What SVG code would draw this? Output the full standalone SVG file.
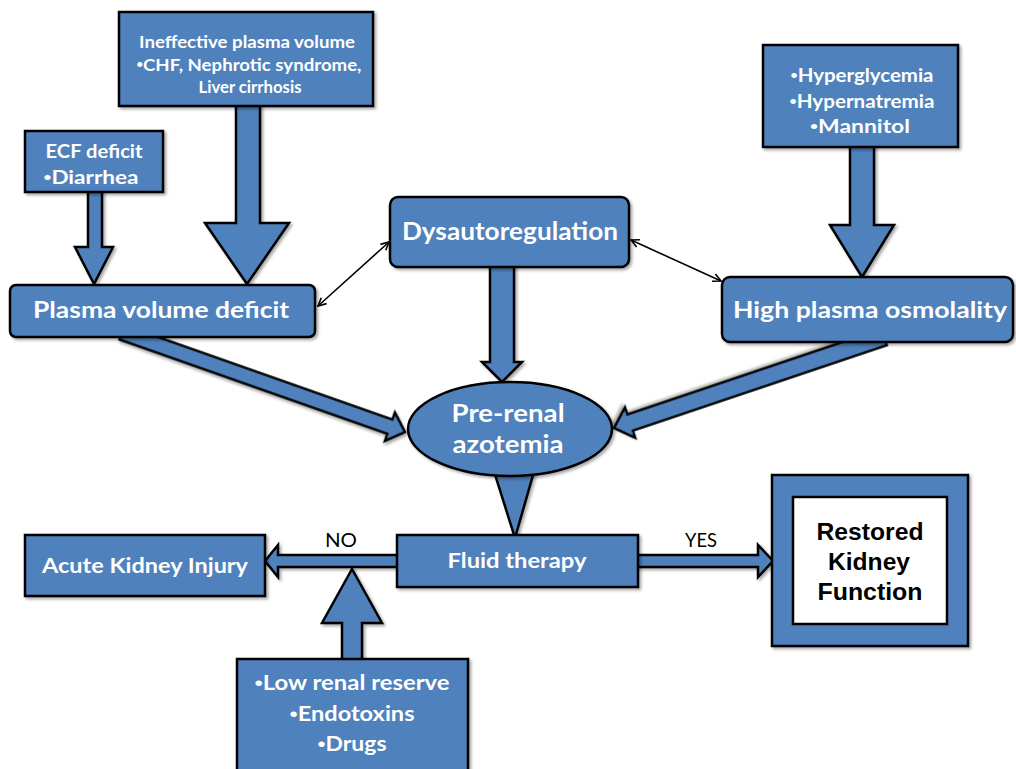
<svg xmlns="http://www.w3.org/2000/svg" width="1016" height="769" viewBox="0 0 1016 769">
<style>
.b{fill:#4F81BD;stroke:#000;stroke-width:2.5;filter:url(#sh)}
.w{fill:#fff;stroke:#000;stroke-width:2.5}
.t{font-family:Lato,"Open Sans","Liberation Sans",sans-serif;font-weight:bold;fill:#fff;text-anchor:middle}
.r{font-family:Lato,"Open Sans","Liberation Sans",sans-serif;fill:#000;text-anchor:middle}
.k{font-family:"Liberation Sans",Arial,sans-serif;font-weight:bold;fill:#000;text-anchor:middle}
.u{font-family:"Liberation Sans",Arial,sans-serif;font-weight:normal}
.thin{stroke:#000;stroke-width:1.6;fill:none;marker-start:url(#oa);marker-end:url(#oa)}
</style>
<defs>
<filter id="sh" x="-10%" y="-10%" width="130%" height="130%">
<feDropShadow dx="2" dy="2" stdDeviation="1.5" flood-color="#000" flood-opacity="0.35"/>
</filter>
<marker id="oa" viewBox="0 0 10 10" refX="9" refY="5" markerWidth="10" markerHeight="10" markerUnits="userSpaceOnUse" orient="auto-start-reverse">
<path d="M1,1 L9,5 L1,9" fill="none" stroke="#000" stroke-width="1.6"/>
</marker>
</defs>
<rect width="1016" height="769" fill="#fff"/>

<g id="connectors">
<polygon class="b" points="88,190 102,190 102,247 113,247 94,284 75,247 88,247"/>
<polygon class="b" points="236,104 260,104 260,223 289,223 247,284 205,223 236,223"/>
<polygon class="b" points="850,145 874,145 874,225 894,225 862,277 830,225 850,225"/>
<polygon class="b" points="490,265 514,265 514,362 522,362 502,382 482,362 490,362"/>
<polygon class="b" transform="translate(405,432) rotate(19.4)" points="-300,-7.5 -16,-7.5 -16,-15 0,0 -16,15 -16,7.5 -300,7.5"/>
<polygon class="b" transform="translate(614,428) rotate(161.4)" points="-285,-8.5 -17,-8.5 -17,-16 0,0 -17,16 -17,8.5 -285,8.5"/>
<polygon class="b" points="493,468 535,468 515,538"/>
<polygon class="b" points="399,555 278,555 278,545 265,561 278,577 278,567 399,567"/>
<polygon class="b" points="636,555 758,555 758,545 773,561 758,577 758,567 636,567"/>
<polygon class="b" points="342,661 342,623 322,623 352,569 382,623 362,623 362,661"/>
<line class="thin" x1="318" y1="306" x2="389" y2="242"/>
<line class="thin" x1="631" y1="240" x2="721" y2="281"/>
<text class="r" x="341" y="547" font-size="20" textLength="32" lengthAdjust="spacingAndGlyphs">NO</text>
<text class="r" x="701" y="547" font-size="20" textLength="32" lengthAdjust="spacingAndGlyphs">YES</text>
</g>

<g id="ineffective">
<rect class="b" x="119" y="12" width="254" height="94"/>
<text class="t" x="247" y="48" font-size="17.5" textLength="216" lengthAdjust="spacingAndGlyphs">Ineffective plasma volume</text>
<text class="t" x="249" y="71" font-size="17.5" textLength="225" lengthAdjust="spacingAndGlyphs"><tspan class="u">•</tspan>CHF, Nephrotic syndrome,</text>
<text class="t" x="250" y="93" font-size="17.5" textLength="103" lengthAdjust="spacingAndGlyphs">Liver cirrhosis</text>
</g>

<g id="ecf">
<rect class="b" x="25" y="131" width="138" height="61"/>
<text class="t" x="94" y="158" font-size="19" textLength="97" lengthAdjust="spacingAndGlyphs">ECF deficit</text>
<text class="t" x="91" y="184" font-size="19" textLength="95" lengthAdjust="spacingAndGlyphs"><tspan class="u">•</tspan>Diarrhea</text>
</g>

<g id="hyper">
<rect class="b" x="763" y="45" width="195" height="102"/>
<text class="t" x="862" y="82" font-size="18" textLength="143" lengthAdjust="spacingAndGlyphs"><tspan class="u">•</tspan>Hyperglycemia</text>
<text class="t" x="862" y="108" font-size="18" textLength="145" lengthAdjust="spacingAndGlyphs"><tspan class="u">•</tspan>Hypernatremia</text>
<text class="t" x="860" y="133" font-size="18" textLength="100" lengthAdjust="spacingAndGlyphs"><tspan class="u">•</tspan>Mannitol</text>
</g>

<g id="plasma">
<rect class="b" x="10" y="285" width="305" height="52" rx="6"/>
<text class="t" x="161" y="318" font-size="23.5" textLength="256" lengthAdjust="spacingAndGlyphs">Plasma volume deficit</text>
</g>

<g id="dysauto">
<rect class="b" x="390" y="197" width="239" height="70" rx="8"/>
<text class="t" x="510" y="240" font-size="24" textLength="216" lengthAdjust="spacingAndGlyphs">Dysautoregulation</text>
</g>

<g id="highosm">
<rect class="b" x="722" y="277" width="291" height="65" rx="8"/>
<text class="t" x="870" y="318" font-size="23.5" textLength="274" lengthAdjust="spacingAndGlyphs">High plasma osmolality</text>
</g>

<g id="prerenal">
<ellipse class="b" cx="510" cy="429" rx="102" ry="47"/>
<text class="t" x="508" y="422" font-size="24" textLength="113" lengthAdjust="spacingAndGlyphs">Pre-renal</text>
<text class="t" x="508" y="453" font-size="24" textLength="111" lengthAdjust="spacingAndGlyphs">azotemia</text>
</g>

<g id="fluid">
<rect class="b" x="397" y="535" width="241" height="52"/>
<text class="t" x="517" y="568" font-size="21" textLength="139" lengthAdjust="spacingAndGlyphs">Fluid therapy</text>
</g>

<g id="aki">
<rect class="b" x="25" y="535" width="240" height="61"/>
<text class="t" x="145" y="573" font-size="21.5" textLength="206" lengthAdjust="spacingAndGlyphs">Acute Kidney Injury</text>
</g>

<g id="restored">
<rect class="b" x="772" y="475" width="196" height="171"/>
<rect class="w" x="793" y="497" width="154" height="127"/>
<text class="k" x="870" y="540" font-size="24" textLength="107" lengthAdjust="spacingAndGlyphs">Restored</text>
<text class="k" x="869" y="570" font-size="24" textLength="82" lengthAdjust="spacingAndGlyphs">Kidney</text>
<text class="k" x="870" y="600" font-size="24" textLength="105" lengthAdjust="spacingAndGlyphs">Function</text>
</g>

<g id="factors">
<rect class="b" x="237" y="659" width="231" height="125"/>
<text class="t" x="352" y="690" font-size="21" textLength="195" lengthAdjust="spacingAndGlyphs"><tspan class="u">•</tspan>Low renal reserve</text>
<text class="t" x="352" y="721" font-size="21" textLength="125" lengthAdjust="spacingAndGlyphs"><tspan class="u">•</tspan>Endotoxins</text>
<text class="t" x="352" y="751" font-size="21" textLength="69" lengthAdjust="spacingAndGlyphs"><tspan class="u">•</tspan>Drugs</text>
</g>
</svg>
